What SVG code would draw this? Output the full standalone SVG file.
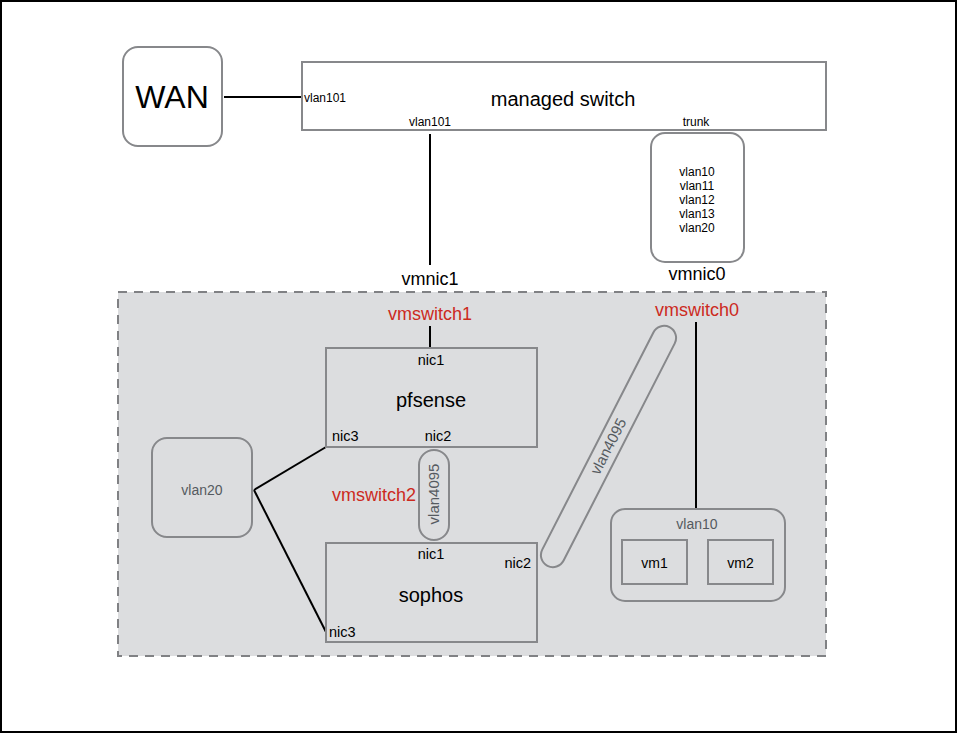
<svg xmlns="http://www.w3.org/2000/svg" width="957" height="733" viewBox="0 0 957 733">
<style>
text{font-family:"Liberation Sans",Arial,sans-serif;fill:#000}
.box{fill:#fff;stroke:#87888b;stroke-width:2}
.ibox{fill:none;stroke:#87888b;stroke-width:2}
.ln{stroke:#000;stroke-width:2;fill:none}
.red{fill:#cc2a1e;font-size:18px}
.gray{fill:#555a60}
.s{font-size:11px}
.l{font-size:12px}
.m{font-size:14px}
.n{font-size:14.5px}
</style>
<rect x="1" y="1" width="955" height="731" fill="#fff" stroke="#000" stroke-width="2"/>
<g id="esxi-host">
<rect x="118" y="292" width="708" height="364" fill="#dcdddf" stroke="#808184" stroke-width="2" stroke-dasharray="9 7"/>
</g>
<g id="connectors">
<line class="ln" x1="224" y1="97" x2="302" y2="97"/>
<line class="ln" x1="430" y1="134" x2="430" y2="265"/>
<line class="ln" x1="430" y1="326" x2="430" y2="348"/>
<line class="ln" x1="696" y1="322" x2="696" y2="510"/>
<line class="ln" x1="254" y1="490" x2="326" y2="447"/>
<line class="ln" x1="254" y1="490" x2="326" y2="632"/>
</g>
<g id="wan">
<rect class="box" x="123" y="47" width="99" height="99" rx="15"/>
<text x="172" y="108" font-size="32" text-anchor="middle">WAN</text>
</g>
<g id="managed-switch">
<rect class="box" x="302" y="62" width="524" height="68"/>
<text x="563" y="106" font-size="20" text-anchor="middle">managed switch</text>
<text class="l" x="304" y="102">vlan101</text>
<text class="l" x="430" y="126" text-anchor="middle">vlan101</text>
<text class="l" x="696" y="126" text-anchor="middle">trunk</text>
</g>
<g id="vmnic1">
<text x="430" y="285" font-size="18" text-anchor="middle">vmnic1</text>
</g>
<g id="vmnic0">
<rect class="box" x="651" y="133" width="93" height="129" rx="14"/>
<text class="l" text-anchor="middle"><tspan x="697" y="176">vlan10</tspan><tspan x="697" y="190">vlan11</tspan><tspan x="697" y="204">vlan12</tspan><tspan x="697" y="218">vlan13</tspan><tspan x="697" y="232">vlan20</tspan></text>
<text x="697" y="280" font-size="18" text-anchor="middle">vmnic0</text>
</g>
<g id="vmswitch1">
<text class="red" x="430" y="320" text-anchor="middle">vmswitch1</text>
</g>
<g id="vmswitch0">
<text class="red" x="697" y="316" text-anchor="middle">vmswitch0</text>
</g>
<g id="vmswitch2">
<text class="red" x="374" y="501" text-anchor="middle">vmswitch2</text>
</g>
<g id="pfsense">
<rect class="ibox" x="326" y="348" width="211" height="99"/>
<text class="n" x="431" y="365" text-anchor="middle">nic1</text>
<text x="431" y="407" font-size="20" text-anchor="middle">pfsense</text>
<text class="n" x="332" y="441">nic3</text>
<text class="n" x="438" y="441" text-anchor="middle">nic2</text>
</g>
<g id="sophos">
<rect class="ibox" x="326" y="543" width="211" height="99"/>
<text class="n" x="431" y="559" text-anchor="middle">nic1</text>
<text class="n" x="531" y="568" text-anchor="end">nic2</text>
<text x="431" y="602" font-size="20" text-anchor="middle">sophos</text>
<text class="n" x="329" y="637">nic3</text>
</g>
<g id="vlan4095-a">
<rect class="ibox" x="419" y="450" width="30" height="90" rx="15"/>
<text class="gray" font-size="15" transform="translate(439,494) rotate(-90)" text-anchor="middle">vlan4095</text>
</g>
<g id="vlan4095-b">
<g transform="translate(608.5,446.5) rotate(-62.9)">
<rect class="ibox" x="-134" y="-12" width="268" height="24" rx="12"/>
<text class="gray" font-size="15" x="0" y="5" text-anchor="middle">vlan4095</text>
</g>
</g>
<g id="vlan20">
<rect class="ibox" x="152" y="438" width="100" height="99" rx="15"/>
<text class="m gray" x="202" y="495" text-anchor="middle">vlan20</text>
</g>
<g id="vlan10">
<rect class="ibox" x="611" y="509" width="174" height="92" rx="14"/>
<text class="m gray" x="697" y="529" text-anchor="middle">vlan10</text>
</g>
<g id="vm1">
<rect class="ibox" x="622" y="540" width="65" height="44"/>
<text class="m" x="654.5" y="568" text-anchor="middle">vm1</text>
</g>
<g id="vm2">
<rect class="ibox" x="708" y="540" width="65" height="44"/>
<text class="m" x="740.5" y="568" text-anchor="middle">vm2</text>
</g>
</svg>
